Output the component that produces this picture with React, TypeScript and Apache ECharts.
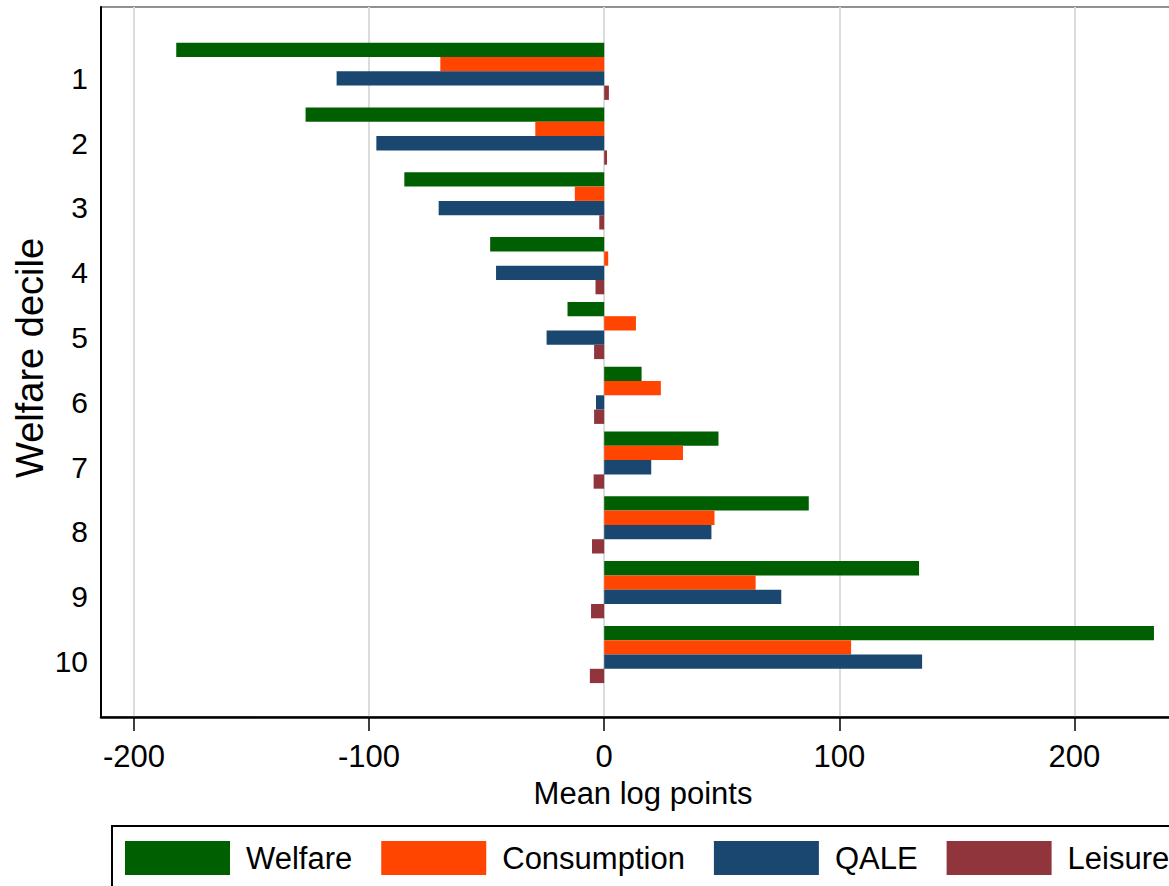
import React, { useEffect, useRef } from "react";
import * as echarts from "echarts";

const deciles = ["1", "2", "3", "4", "5", "6", "7", "8", "9", "10"];
const welfare = [-182, -127, -85, -48.5, -15.6, 15.9, 48.6, 87, 133.9, 233.8];
const consumption = [-69.7, -29.3, -12.5, 1.7, 13.5, 24.1, 33.5, 46.9, 64.4, 105];
const qale = [-113.8, -96.9, -70.4, -46, -24.5, -3.5, 20, 45.6, 75.3, 135.2];
const leisure = [2, 1.2, -2.1, -3.7, -4.3, -4.3, -4.5, -5.2, -5.6, -6.1];
const xTicks = [-200, -100, 0, 100, 200];
const seriesNames = ["Welfare", "Consumption", "QALE", "Leisure"];
const seriesColors = ["#005f00", "#ff4500", "#1a476f", "#90353b"];

const X_MIN = -214;
const X_MAX = 247;
const FONT = "'Liberation Sans', Arial, sans-serif";

export default function App() {
  const ref = useRef<HTMLDivElement>(null);
  useEffect(() => {
    if (!ref.current) return;
    const chart = echarts.init(ref.current, undefined, { renderer: "svg" });
    const values = [welfare, consumption, qale, leisure];
    chart.setOption({
      animation: false,
      backgroundColor: "#ffffff",
      textStyle: { fontFamily: FONT },
      grid: [
        {
          left: 101,
          top: 7,
          right: 15,
          bottom: 183,
          show: true,
          borderColor: "#6e6e6e",
          borderWidth: 1.5,
          containLabel: false,
          outerBoundsMode: "none",
        },
        { left: 101, top: 38.9, right: 15, height: 648, containLabel: false, outerBoundsMode: "none" },
        { left: 101, top: 45.9, right: 15, height: 648, containLabel: false, outerBoundsMode: "none" },
      ],
      xAxis: [
        {
          gridIndex: 0,
          type: "value",
          min: X_MIN,
          max: X_MAX,
          name: "Mean log points",
          nameLocation: "middle",
          nameGap: 61,
          nameTextStyle: { fontSize: 31, color: "#000", fontFamily: FONT },
          axisLine: { show: true, onZero: false, lineStyle: { color: "#000", width: 2.5 } },
          axisTick: {
            show: true,
            length: 14,
            lineStyle: { color: "#000", width: 1.5 },
            customValues: xTicks,
          },
          axisLabel: {
            fontSize: 31,
            color: "#000",
            margin: 24,
            fontFamily: FONT,
            customValues: xTicks,
          },
          splitLine: { show: true, lineStyle: { color: "#dcdcdc", width: 2 } },
        },
        {
          gridIndex: 1,
          type: "value",
          min: X_MIN,
          max: X_MAX,
          show: false,
          splitLine: { show: false },
        },
        {
          gridIndex: 2,
          type: "value",
          min: X_MIN,
          max: X_MAX,
          show: false,
          splitLine: { show: false },
        },
      ],
      yAxis: [
        {
          gridIndex: 0,
          type: "value",
          min: 0,
          max: 1,
          name: "Welfare decile",
          nameLocation: "middle",
          nameGap: 52,
          nameTextStyle: { fontSize: 38, color: "#000", fontFamily: FONT, padding: [0, 0, 0, 8] },
          axisLine: { show: true, onZero: false, lineStyle: { color: "#000", width: 2 } },
          axisTick: { show: false },
          axisLabel: { show: false },
          splitLine: { show: false },
        },
        {
          gridIndex: 1,
          type: "category",
          inverse: true,
          data: deciles,
          axisLine: { show: false },
          axisTick: { show: false },
          splitLine: { show: false },
          axisLabel: { show: false },
        },
        {
          gridIndex: 2,
          type: "category",
          inverse: true,
          data: deciles,
          axisLine: { show: false },
          axisTick: { show: false },
          splitLine: { show: false },
          axisLabel: {
            fontSize: 30,
            color: "#000",
            margin: 13,
            fontFamily: FONT,
          },
        },
      ],
      legend: {
        data: seriesNames,
        left: 112,
        top: 826,
        orient: "horizontal",
        icon: "rect",
        itemWidth: 105,
        itemHeight: 34,
        itemGap: 29,
        padding: [15, 13, 15, 13],
        borderColor: "#000",
        borderWidth: 2,
        borderRadius: 0,
        textStyle: { fontSize: 31, color: "#000", fontFamily: FONT, padding: [0, 0, 0, 11] },
      },
      series: seriesNames.map((name, i) => ({
        name,
        type: "bar",
        xAxisIndex: 1,
        yAxisIndex: 1,
        data: values[i],
        barWidth: 14.3,
        barGap: "0%",
        itemStyle: { color: seriesColors[i] },
      })),
    });
    return () => chart.dispose();
  }, []);
  return (
    <div
      style={{
        position: "fixed",
        left: 0,
        top: 0,
        width: 1169,
        height: 886,
        overflow: "hidden",
        background: "#fff",
      }}
    >
      <div ref={ref} style={{ width: 1200, height: 900 }} />
    </div>
  );
}
